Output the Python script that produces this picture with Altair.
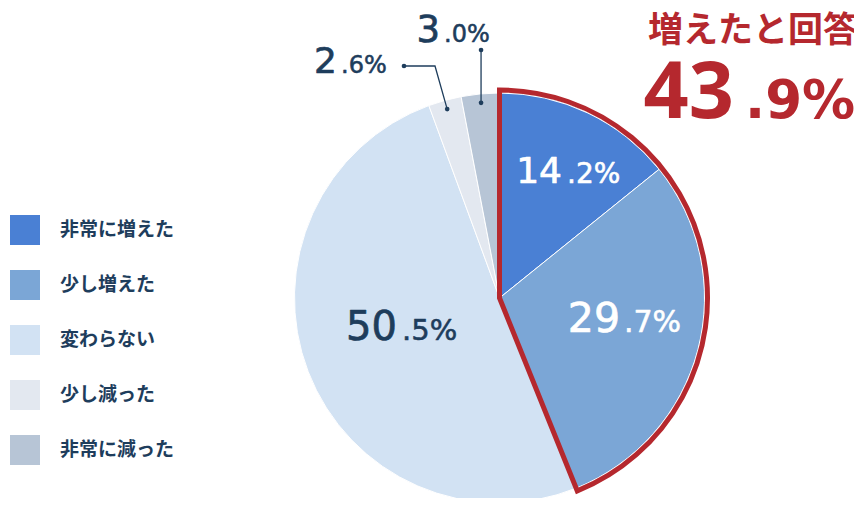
import math
import altair as alt
import pandas as pd

# ---- data ----
categories = ["非常に増えた", "少し増えた", "変わらない", "少し減った", "非常に減った"]
values = [14.2, 29.7, 50.5, 2.6, 3.0]
colors = ["#4a80d4", "#7ba6d6", "#d2e2f3", "#e3e8f0", "#b7c5d6"]
highlight_label = "増えたと回答"
highlight_value = 43.9
highlight_n = 2  # first two slices

# ---- layout ----
PT, PR = 14, 8
W, H = 846 - PR, 490 - PT
def vx(px): return px - 8
def vy(py): return py - 8 - PT

CX, CY = vx(499.5), vy(298.0)
R = 205
NAVY = "#1e3d5c"
RED = "#b5282e"

starts, ends, acc = [], [], 0.0
for v in values:
    starts.append(acc)
    acc += v
    ends.append(acc)
df = pd.DataFrame({"cat": categories, "value": values, "start": starts, "end": ends})

theta_scale = alt.Scale(domain=[0, 100], range=[0, 2 * math.pi])

pie = alt.Chart(df).mark_arc(radius=R, stroke="white", strokeWidth=1).encode(
    x=alt.value(CX), y=alt.value(CY),
    theta=alt.Theta("start:Q", scale=theta_scale),
    theta2="end:Q",
    color=alt.Color("cat:N", scale=alt.Scale(domain=categories, range=colors),
                    legend=alt.Legend(orient="none", legendX=vx(10), legendY=vy(215), title=None,
                                      symbolType="square", symbolSize=900, symbolStrokeWidth=0,
                                      symbolOpacity=1, labelFont="Noto Sans CJK JP",
                                      labelFontSize=19, labelFontWeight="bold", labelColor=NAVY,
                                      labelOffset=20, rowPadding=25, padding=0, labelLimit=300)),
)

df_h = pd.DataFrame({"start": [0.0], "end": [sum(values[:highlight_n])]})
outline = alt.Chart(df_h).mark_arc(radius=R + 3, stroke=RED, strokeWidth=5, strokeJoin="miter",
                                    fillOpacity=0, fill="white").encode(
    x=alt.value(CX), y=alt.value(CY),
    theta=alt.Theta("start:Q", scale=theta_scale),
    theta2="end:Q",
)

# ---- leader lines for small slices ----
lead_r = 196
elbows = {3: [(vx(435), vy(66)), (vx(404), vy(66))], 4: [(None, vy(50))]}
rows = []
for i in (3, 4):
    mid = (starts[i] + ends[i]) / 2 / 100 * 2 * math.pi
    px = CX + lead_r * math.sin(mid)
    py = CY - lead_r * math.cos(mid)
    pts = [(px, py)]
    for ex, ey in elbows[i]:
        pts.append((px if ex is None else ex, ey))
    for k, (x, y) in enumerate(pts):
        rows.append({"g": i, "k": k, "x": x, "y": y, "end": k in (0, len(pts) - 1)})
lead = pd.DataFrame(rows)
lines = alt.Chart(lead).mark_line(color=NAVY, strokeWidth=1.3).encode(
    x=alt.X("x:Q", scale=None, axis=None), y=alt.Y("y:Q", scale=None, axis=None),
    detail="g:N", order="k:Q")
dots = alt.Chart(lead[lead["end"]]).mark_circle(color=NAVY, opacity=1, size=22).encode(
    x=alt.X("x:Q", scale=None, axis=None), y=alt.Y("y:Q", scale=None, axis=None))

# ---- value labels (integer part big, decimal part small) ----
# (split x, baseline y) in page pixels
label_pos = [(562, 183), (620, 332), (397, 340), (337, 73), (440, 42)]
big_fs = [36, 41, 40, 36, 37]
small_fs = [28, 30, 29, 24, 24]
gaps = [5, 4, 5, 4, 4]
txt_col = ["white", "white", NAVY, NAVY, NAVY]

def split_rows(s, sx, sy, bfs, sfs, c, gap):
    a, b = s.split(".")
    return ({"t": a, "x": vx(sx), "y": vy(sy), "fs": bfs, "c": c},
            {"t": "." + b + "%", "x": vx(sx) + gap, "y": vy(sy), "fs": sfs, "c": c})

big_rows, small_rows = [], []
for i, v in enumerate(values):
    bgr, smr = split_rows(f"{v:.1f}", label_pos[i][0], label_pos[i][1],
                          big_fs[i], small_fs[i], txt_col[i], gaps[i])
    big_rows.append(bgr)
    small_rows.append(smr)
hl_big, hl_small = split_rows(f"{highlight_value:.1f}", 734, 118, 79, 53, RED, 11)

def text_layer(rows, align, font, weight, sw):
    return alt.Chart(pd.DataFrame(rows)).mark_text(
        align=align, baseline="alphabetic", font=font, fontWeight=weight,
        strokeWidth=sw, strokeJoin="round").encode(
        x=alt.X("x:Q", scale=None, axis=None), y=alt.Y("y:Q", scale=None, axis=None),
        text="t:N", size=alt.Size("fs:Q", scale=None, legend=None),
        color=alt.Color("c:N", scale=None, legend=None),
        stroke=alt.Stroke("c:N", scale=None, legend=None))

big_t = text_layer(big_rows, "right", "DejaVu Sans", "normal", 0.7)
small_t = text_layer(small_rows, "left", "DejaVu Sans", "normal", 0.55)
hl_big_t = text_layer([hl_big], "right", "Noto Sans", "bold", 0)
hl_small_t = text_layer([hl_small], "left", "DejaVu Sans", "bold", 0)

title_t = alt.Chart(pd.DataFrame({"t": [highlight_label]})).mark_text(
    align="right", baseline="alphabetic", font="Noto Sans CJK JP", fontWeight="bold",
    fontSize=35, color=RED).encode(text="t:N", x=alt.value(vx(858)), y=alt.value(vy(42)))

chart = alt.layer(pie, outline, lines, dots, big_t, small_t, hl_big_t, hl_small_t,
                  title_t).properties(
    width=W, height=H, padding={"left": 0, "top": PT, "right": PR, "bottom": 0}, autosize="none"
).configure_view(strokeWidth=0)

chart.save("out.html", embed_options={"renderer": "svg", "actions": False})
